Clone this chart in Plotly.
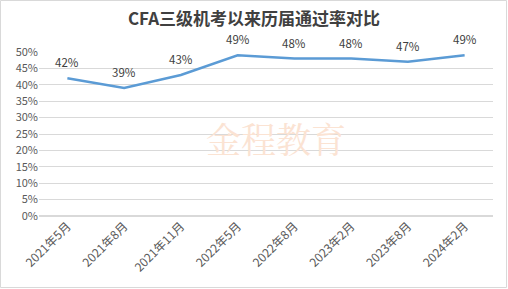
import plotly.graph_objects as go

categories = ["2021年5月", "2021年8月", "2021年11月", "2022年5月", "2022年8月", "2023年2月", "2023年8月", "2024年2月"]
pass_rates = [0.42, 0.39, 0.43, 0.49, 0.48, 0.48, 0.47, 0.49]
labels = ["42%", "39%", "43%", "49%", "48%", "48%", "47%", "49%"]

W, H = 508, 289
ml, mr, mt, mb = 39, 15, 52, 73
pw = W - ml - mr
ph = H - mt - mb

fig = go.Figure()
fig.add_trace(go.Scatter(
    x=categories, y=pass_rates, mode="lines",
    line=dict(color="#5B9BD5", width=2.5),
    cliponaxis=False, hoverinfo="skip",
))
for c, v, t in zip(categories, pass_rates, labels):
    fig.add_annotation(x=c, y=v, text=t, showarrow=False, yshift=16,
                       font=dict(size=11.5, color="#404040", family="Noto Sans CJK SC"))

fig.update_layout(
    width=W, height=H,
    margin=dict(l=ml, r=mr, t=mt, b=mb),
    paper_bgcolor="white", plot_bgcolor="white",
    showlegend=False,
    title=dict(text="<b>CFA三级机考以来历届通过率对比</b>", x=0.5, xanchor="center",
               y=1 - 19 / H, yanchor="middle",
               font=dict(size=17, color="#404040", family="Noto Sans CJK SC")),
    font=dict(family="Noto Sans CJK SC", color="#595959"),
)
fig.update_xaxes(type="category", tickangle=-45, showgrid=False, showline=False,
                 ticks="", tickfont=dict(size=12, color="#595959"),
                 range=[-0.5, len(categories) - 0.5])
fig.update_yaxes(range=[0, 0.5], dtick=0.05, tickformat=".0%", showgrid=True,
                 gridcolor="#D9D9D9", gridwidth=1, zeroline=True, zerolinecolor="#D9D9D9",
                 ticks="", tickfont=dict(size=11, color="#595959"), showline=False)

fig.add_annotation(text="金程教育", xref="paper", yref="paper",
                   x=(348 - ml) / pw, y=1 - (138 - mt) / ph, showarrow=False,
                   font=dict(size=35, color="#FBE3D3", family="Noto Serif CJK SC, Noto Sans CJK SC"))

fig.add_shape(type="rect", xref="paper", yref="paper",
              x0=-(ml - 0.5) / pw, x1=(W - ml - 1.5) / pw,
              y0=-(mb - 1.5) / ph, y1=1 + (mt - 0.5) / ph,
              line=dict(color="#D9D9D9", width=1), layer="below")

fig.write_html("out.html")
